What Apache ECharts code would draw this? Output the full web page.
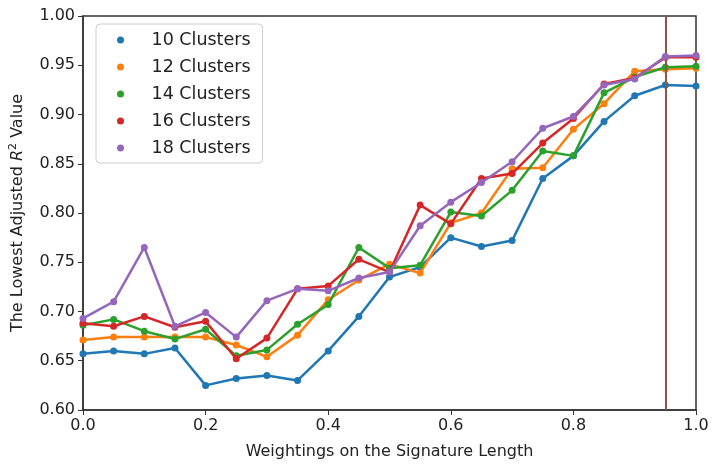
<!DOCTYPE html>
<html><head><meta charset="utf-8">
<script src="https://cdn.jsdelivr.net/npm/echarts@6/dist/echarts.min.js"></script>
<style>html,body{margin:0;padding:0;background:#fff}#c{width:712px;height:470px}</style>
</head><body><div id="c"></div>
<script>
const xValues = [0,0.05,0.1,0.15,0.2,0.25,0.3,0.35,0.4,0.45,0.5,0.55,0.6,0.65,0.7,0.75,0.8,0.85,0.9,0.95,1.0];
const seriesNames = ['10 Clusters','12 Clusters','14 Clusters','16 Clusters','18 Clusters'];
const c10 = [0.657,0.660,0.657,0.663,0.625,0.632,0.635,0.630,0.660,0.695,0.735,0.745,0.775,0.766,0.772,0.835,0.858,0.893,0.919,0.930,0.929];
const c12 = [0.671,0.674,0.674,0.674,0.674,0.666,0.654,0.676,0.712,0.732,0.748,0.739,0.790,0.800,0.845,0.846,0.885,0.911,0.944,0.946,0.947];
const c14 = [0.686,0.692,0.680,0.672,0.682,0.655,0.661,0.687,0.707,0.765,0.744,0.747,0.801,0.797,0.823,0.863,0.858,0.922,0.938,0.948,0.949];
const c16 = [0.688,0.685,0.695,0.684,0.690,0.652,0.673,0.723,0.726,0.753,0.740,0.808,0.789,0.835,0.840,0.871,0.896,0.931,0.937,0.958,0.958];
const c18 = [0.693,0.710,0.765,0.685,0.699,0.674,0.711,0.723,0.721,0.734,0.740,0.787,0.811,0.831,0.852,0.886,0.898,0.930,0.936,0.959,0.960];
const vLineX = 0.95;
const colors = ['#1f77b4','#ff7f0e','#2ca02c','#d62728','#9467bd'];
const allData = [c10,c12,c14,c16,c18];

const series = allData.map((arr,i)=>({
  name: seriesNames[i], type:'line',
  data: arr.map((v,j)=>[xValues[j],v]),
  symbol:'circle', symbolSize:7, showSymbol:true,
  lineStyle:{width:2.5,color:colors[i]},
  itemStyle:{color:colors[i]},
  z: 2+i
}));
series[0].markLine = {
  silent:true, symbol:'none', label:{show:false},
  lineStyle:{color:'#8c564b',width:2,type:'solid'},
  data:[{xAxis:vLineX}]
};

const chart = echarts.init(document.getElementById('c'));
chart.setOption({
  animation:false,
  color: colors,
  textStyle:{fontFamily:'DejaVu Sans'},
  grid:{left:80,right:16,top:16,bottom:60,show:true,borderColor:'#333',borderWidth:1.5,backgroundColor:'#fff'},
  legend:{
    orient:'vertical', left:96, top:24,
    data: seriesNames.map(n=>({name:n,icon:'circle'})),
    itemWidth:52, itemHeight:7, itemGap:9,
    padding:[7,12,6,21],
    backgroundColor:'#fff', borderColor:'#ccc', borderWidth:1, borderRadius:4,
    textStyle:{fontSize:17.5,color:'#222',fontFamily:'DejaVu Sans'}
  },
  xAxis:{
    type:'value', min:0, max:1, interval:0.2,
    name:'Weightings on the Signature Length', nameLocation:'middle', nameGap:34,
    nameTextStyle:{fontSize:16,color:'#222'},
    axisLine:{lineStyle:{color:'#333',width:1.5}},
    axisTick:{show:true,length:5,inside:false,lineStyle:{color:'#333'}},
    axisLabel:{fontSize:16,color:'#222',margin:8,formatter:v=>v.toFixed(1)},
    splitLine:{show:false}
  },
  yAxis:{
    type:'value', min:0.6, max:1.0, interval:0.05,
    name:'The Lowest Adjusted {i|R}{s|2} Value', nameLocation:'middle', nameGap:56,
    nameTextStyle:{fontSize:16,color:'#222',rich:{i:{fontSize:16,fontStyle:'italic',color:'#222'},s:{fontSize:11,verticalAlign:'top',padding:[0,0,8,0],color:'#222'}}},
    axisLine:{show:true,lineStyle:{color:'#333',width:1.5}},
    axisTick:{show:true,length:5,lineStyle:{color:'#333'}},
    axisLabel:{fontSize:16,color:'#222',margin:8,formatter:v=>v.toFixed(2)},
    splitLine:{show:false}
  },
  series: series
});
</script></body></html>
